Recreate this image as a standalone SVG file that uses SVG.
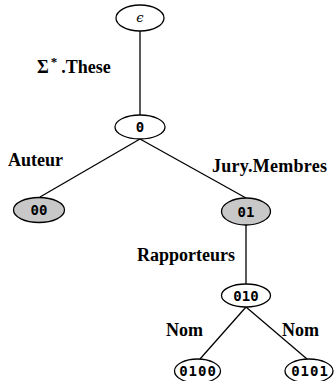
<svg xmlns="http://www.w3.org/2000/svg" width="335" height="381" viewBox="0 0 335 381">
<style>
.n{fill:#fff;stroke:#000;stroke-width:1.3}
.g{fill:#c8c8c8;stroke:#000;stroke-width:1.3}
.t{font-family:"DejaVu Sans Mono",monospace;font-weight:bold;font-size:14px;text-anchor:middle;fill:#000}
.l{font-family:"Liberation Serif",serif;font-weight:bold;font-size:18px;fill:#000}
.e{stroke:#000;stroke-width:1.3;fill:none}
</style>
<rect width="335" height="381" fill="#fff"/>
<g id="edges">
<line class="e" x1="140" y1="31" x2="140" y2="115"/>
<line class="e" x1="140" y1="139" x2="40" y2="197"/>
<line class="e" x1="140" y1="139" x2="246" y2="198"/>
<line class="e" x1="246" y1="225" x2="246" y2="284"/>
<line class="e" x1="246" y1="307" x2="200" y2="359"/>
<line class="e" x1="246" y1="307" x2="307" y2="359"/>
</g>
<g id="labels">
<text class="l" x="37" y="73">Σ<tspan font-size="13" dy="-7" dx="2">*</tspan><tspan dy="7" dx="4">.These</tspan></text>
<text class="l" x="8" y="166">Auteur</text>
<text class="l" x="212" y="172" textLength="115">Jury.Membres</text>
<text class="l" x="137" y="261">Rapporteurs</text>
<text class="l" x="166" y="336">Nom</text>
<text class="l" x="282" y="336">Nom</text>
</g>
<g id="n_eps"><ellipse class="n" cx="140" cy="18" rx="24" ry="13"/><text x="140" y="22" font-family="DejaVu Serif,serif" font-style="italic" font-size="13" text-anchor="middle">ϵ</text></g>
<g id="n_0"><ellipse class="n" cx="140" cy="127" rx="25" ry="12"/><text class="t" x="140" y="132">0</text></g>
<g id="n_00"><ellipse class="g" cx="39" cy="210" rx="25.5" ry="12.5"/><text class="t" x="39" y="215">00</text></g>
<g id="n_01"><ellipse class="g" cx="246" cy="211.5" rx="24.5" ry="13.5"/><text class="t" x="246" y="216.5">01</text></g>
<g id="n_010"><ellipse class="n" cx="246" cy="295.5" rx="24.5" ry="11.5"/><text class="t" x="246" y="300.5">010</text></g>
<g id="n_0100"><ellipse class="n" cx="197.5" cy="371" rx="23" ry="12"/><text class="t" x="198" y="376" letter-spacing="1">0100</text></g>
<g id="n_0101"><ellipse class="n" cx="309" cy="371" rx="24" ry="12"/><text class="t" x="310" y="376" letter-spacing="1">0101</text></g>
</svg>
